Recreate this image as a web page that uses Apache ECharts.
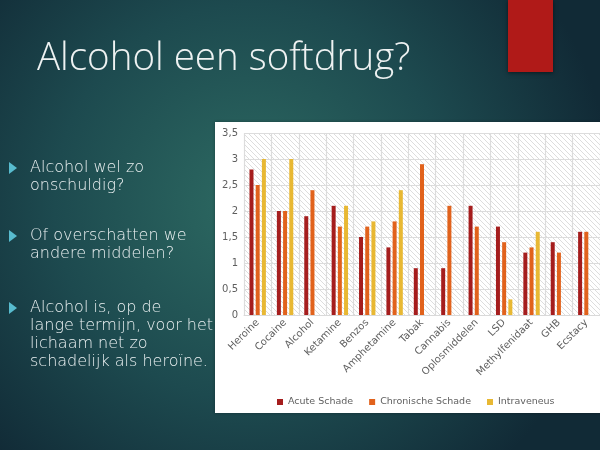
<!DOCTYPE html>
<html>
<head>
<meta charset="utf-8">
<title>Alcohol een softdrug?</title>
<style>
  html, body { margin: 0; padding: 0; background: #14323a; }
  #main { width: 600px; height: 450px; }
</style>
</head>
<body>
<div id="main"></div>
<script src="https://cdn.jsdelivr.net/npm/echarts@6/dist/echarts.min.js"></script>
<script>
// data
var middelen = ['Heroine', 'Cocaine', 'Alcohol', 'Ketamine', 'Benzos', 'Amphetamine', 'Tabak',
                'Cannabis', 'Oplosmiddelen', 'LSD', 'Methylfenidaat', 'GHB', 'Ecstacy'];
var acuteSchade     = [2.8, 2.0, 1.9, 2.1, 1.5, 1.3, 0.9, 0.9, 2.1, 1.7, 1.2, 1.4, 1.6];
var chronischSchade = [2.5, 2.0, 2.4, 1.7, 1.7, 1.8, 2.9, 2.1, 1.7, 1.4, 1.3, 1.2, 1.6];
var intraveneus     = [3.0, 3.0, null, 2.1, 1.8, 2.4, null, null, null, 0.3, 1.6, null, null];
var reeksNamen = ['Acute Schade', 'Chronische Schade', 'Intraveneus'];

var kleuren = ['#a51d1d', '#e1621c', '#e8b833'];
var tekstGrijs = '#5f5f5f';
var font = 'DejaVu Sans';

// diagonal hatch for the plot background
var hatch = document.createElement('canvas');
hatch.width = 5; hatch.height = 5;
(function () {
  var c = hatch.getContext('2d');
  c.fillStyle = '#ffffff';
  c.fillRect(0, 0, 5, 5);
  c.strokeStyle = '#d4d4d4';
  c.lineWidth = 0.8;
  c.beginPath();
  c.moveTo(0, 0); c.lineTo(5, 5);
  c.moveTo(-1, 4); c.lineTo(1, 6);
  c.moveTo(4, -1); c.lineTo(6, 1);
  c.stroke();
})();

var chart = echarts.init(document.getElementById('main'));

var bullet = { fill: '#eaf0f1', fontSize: 16, fontFamily: font, fontWeight: 300, lineHeight: 18 };
function arrow(y) {
  return { type: 'polygon', shape: { points: [[9, y - 6], [17, y], [9, y + 6]] }, style: { fill: '#58bccf' } };
}
function tekst(x, y, s) {
  return { type: 'text', x: x, y: y, style: Object.assign({ text: s }, bullet) };
}

var option = {
  backgroundColor: {
    type: 'radial', x: 0.42, y: 0.45, r: 0.8,
    colorStops: [{ offset: 0, color: '#2d6a62' }, { offset: 0.55, color: '#1d4a4f' }, { offset: 1, color: '#112a36' }]
  },
  animation: false,
  textStyle: { fontFamily: font },
  graphic: [
    { type: 'rect', z: -10, shape: { x: 508, y: 0, width: 45, height: 72 },
      style: { fill: '#b01a18', shadowBlur: 4, shadowColor: 'rgba(0,0,0,0.5)', shadowOffsetY: 1 } },
    { type: 'text', x: 37, y: 40, style: { text: 'Alcohol een softdrug?', fill: '#eef2f2', fontSize: 38.5,
      fontFamily: 'Open Sans', fontWeight: 300 } },
    arrow(168),
    tekst(30, 159, 'Alcohol wel zo\nonschuldig?'),
    arrow(236),
    tekst(30, 227, 'Of overschatten we\nandere middelen?'),
    arrow(308),
    tekst(30, 299, 'Alcohol is, op de\nlange termijn, voor het\nlichaam net zo\nschadelijk als heroïne.'),
    { type: 'rect', z: -5, shape: { x: 215, y: 122, width: 390, height: 291 },
      style: { fill: '#ffffff', shadowBlur: 3, shadowColor: 'rgba(0,0,0,0.3)' } }
  ],
  color: kleuren,
  legend: {
    data: reeksNamen,
    left: 272, top: 392,
    icon: 'rect', itemWidth: 6, itemHeight: 6, itemGap: 16,
    textStyle: { color: tekstGrijs, fontSize: 9.5, fontFamily: font }
  },
  grid: {
    left: 244, top: 133, right: 0, bottom: 135,
    show: true, borderWidth: 0,
    backgroundColor: { image: hatch, repeat: 'repeat' }
  },
  xAxis: {
    type: 'category',
    data: middelen,
    axisLine: { lineStyle: { color: '#d9d9d9' } },
    axisTick: { show: false },
    splitLine: { show: true, lineStyle: { color: '#dcdcdc', width: 1.2 } },
    axisLabel: { rotate: 45, color: tekstGrijs, fontSize: 10, interval: 0, margin: 6 }
  },
  yAxis: {
    type: 'value',
    min: 0, max: 3.5, interval: 0.5,
    axisLine: { show: false },
    axisTick: { show: false },
    splitLine: { lineStyle: { color: '#dcdcdc', width: 1.2 } },
    axisLabel: {
      color: tekstGrijs, fontSize: 10, margin: 6,
      formatter: function (v) { return String(v).replace('.', ','); }
    }
  },
  series: [
    { name: reeksNamen[0], type: 'bar', data: acuteSchade, barWidth: 4, barGap: '55%' },
    { name: reeksNamen[1], type: 'bar', data: chronischSchade, barWidth: 4, barGap: '55%' },
    { name: reeksNamen[2], type: 'bar', data: intraveneus, barWidth: 4, barGap: '55%' }
  ]
};
chart.setOption(option);
</script>
</body>
</html>
